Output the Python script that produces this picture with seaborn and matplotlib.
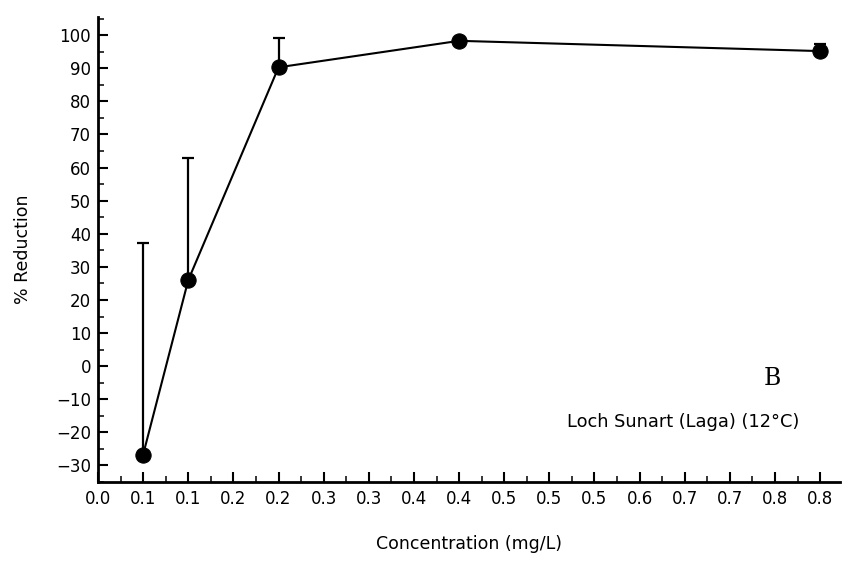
import matplotlib
matplotlib.use("Agg")
import matplotlib.pyplot as plt
from matplotlib.ticker import MultipleLocator
import numpy as np
import pandas as pd
import seaborn as sns

# Dose-response data
concentration = [0.05, 0.1, 0.2, 0.4, 0.8]
reduction = [-26.7, 26.0, 90.3, 98.3, 95.2]
error_upper = [64.0, 37.0, 9.0, 0.0, 2.2]

x_tick_values = [0.0, 0.05, 0.1, 0.15, 0.2, 0.25, 0.3, 0.35, 0.4,
                 0.45, 0.5, 0.55, 0.6, 0.65, 0.7, 0.75, 0.8]
x_tick_labels = ["0.0", "0.1", "0.1", "0.2", "0.2", "0.3", "0.3", "0.4", "0.4",
                 "0.5", "0.5", "0.5", "0.6", "0.7", "0.7", "0.8", "0.8"]
y_tick_values = [-30, -20, -10, 0, 10, 20, 30, 40, 50, 60, 70, 80, 90, 100]

df = pd.DataFrame({"conc": concentration, "red": reduction, "err": error_upper})

sns.set_style("ticks")
plt.rcParams["font.family"] = ["DejaVu Sans"]
plt.rcParams["text.color"] = "black"
plt.rcParams["axes.labelcolor"] = "black"

fig = plt.figure(figsize=(8.44, 5.64), dpi=100)
ax = fig.add_axes([98 / 844, 1 - 482 / 564, (840 - 98) / 844, (482 - 17) / 564])

# one-sided (upper) error bars
ax.errorbar(df["conc"], df["red"], yerr=[np.zeros(len(df)), df["err"]],
            fmt="none", ecolor="black", elinewidth=1.6, capsize=4, capthick=1.6,
            zorder=2)
sns.lineplot(data=df, x="conc", y="red", ax=ax, color="black", linewidth=1.5,
             marker="o", markersize=11, markeredgecolor="black",
             markerfacecolor="black", zorder=3)

ax.set_xlim(0.0, 0.822)
ax.set_ylim(-35, 105.5)
ax.set_xticks(x_tick_values)
ax.set_xticklabels(x_tick_labels)
ax.set_yticks(y_tick_values)
ax.xaxis.set_minor_locator(MultipleLocator(0.025))
ax.yaxis.set_minor_locator(MultipleLocator(5))

ax.tick_params(axis="both", which="major", direction="in", length=7, width=1.5,
               labelsize=12, colors="black", pad=6)
ax.tick_params(axis="both", which="minor", direction="in", length=4, width=1.3)
ax.tick_params(axis="y", pad=5)

for side in ["top", "right"]:
    ax.spines[side].set_visible(False)
for side in ["left", "bottom"]:
    ax.spines[side].set_linewidth(2.0)
    ax.spines[side].set_color("black")

ax.set_xlabel("Concentration (mg/L)", fontsize=12.5, labelpad=19)
ax.set_ylabel("% Reduction", fontsize=12.5, labelpad=17)

ax.text(0.7467, -3.6, "B", fontsize=17, family="DejaVu Serif", ha="center", va="center")
ax.text(0.648, -16.9, "Loch Sunart (Laga) (12°C)", fontsize=12.8, ha="center", va="center")

fig.savefig("out.png", dpi=100, facecolor="white")
